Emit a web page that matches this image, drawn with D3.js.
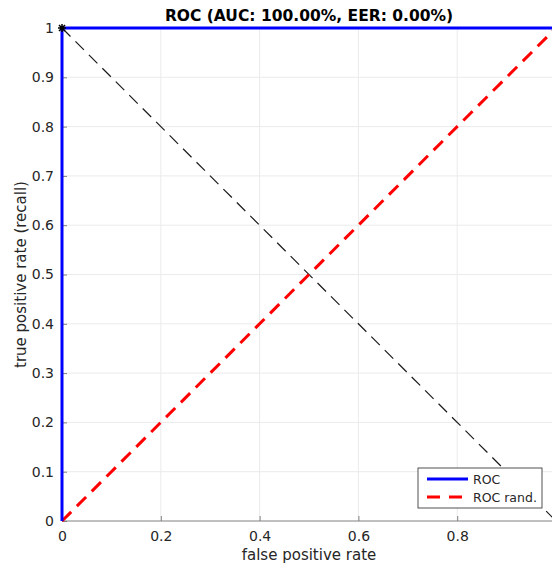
<!DOCTYPE html>
<html>
<head>
<meta charset="utf-8">
<script src="https://cdn.jsdelivr.net/npm/d3@7"></script>
<style>
  body { margin: 0; background: #fff; }
  text { font-family: "DejaVu Sans", sans-serif; }
</style>
</head>
<body>
<svg id="chart" width="552" height="570"></svg>
<script>
// ROC curve points (fpr, tpr)
var rocFpr = [0, 0, 1];
var rocTpr = [0, 1, 1];
// random classifier
var randFpr = [0, 1];
var randTpr = [0, 1];
// EER line
var eerFpr = [0, 1];
var eerTpr = [1, 0];
// operating point
var opFpr = [0];
var opTpr = [1];

var xTicks = [0, 0.2, 0.4, 0.6, 0.8];
var yTicks = [0, 0.1, 0.2, 0.3, 0.4, 0.5, 0.6, 0.7, 0.8, 0.9, 1];
var legendLabels = ["ROC", "ROC rand."];

var svg = d3.select("#chart");
var mLeft = 62, mRight = 556, mTop = 28, mBottom = 521;

var x = d3.scaleLinear().domain([0, 1]).range([mLeft, mRight]);
var y = d3.scaleLinear().domain([0, 1]).range([mBottom, mTop]);

// grid
svg.append("g").selectAll("line").data(xTicks.slice(1)).enter().append("line")
	.attr("x1", x).attr("x2", x).attr("y1", mTop).attr("y2", mBottom)
	.attr("stroke", "#ebebeb").attr("stroke-width", 1);
svg.append("g").selectAll("line").data(yTicks.slice(1)).enter().append("line")
	.attr("y1", y).attr("y2", y).attr("x1", mLeft).attr("x2", mRight)
	.attr("stroke", "#ebebeb").attr("stroke-width", 1);

// axes
var xAxis = svg.append("g").attr("transform", "translate(0," + mBottom + ")")
	.call(d3.axisBottom(x).tickValues(xTicks).tickSizeInner(-5).tickSizeOuter(0).tickPadding(10)
		.tickFormat(function(d){ return d3.format("")(d); }));
var yAxis = svg.append("g").attr("transform", "translate(" + mLeft + ",0)")
	.call(d3.axisLeft(y).tickValues(yTicks).tickSizeInner(-5).tickSizeOuter(0).tickPadding(8)
		.tickFormat(function(d){ return d3.format("")(d); }));
xAxis.select(".domain").attr("d", "M" + mLeft + ",0H" + mRight);
[xAxis, yAxis].forEach(function(a) {
	a.select(".domain").attr("stroke", "#808080");
	a.selectAll(".tick line").attr("stroke", "#808080");
	a.selectAll("text").attr("fill", "#262626").style("font-size", "14px")
		.style("font-family", "DejaVu Sans, sans-serif");
});

function pts(xs, ys) { return xs.map(function(v, i){ return [v, ys[i]]; }); }
var line = d3.line().x(function(d){ return x(d[0]); }).y(function(d){ return y(d[1]); });

svg.append("path").datum(pts(eerFpr, eerTpr)).attr("d", line)
	.attr("fill", "none").attr("stroke", "#1a1a1a").attr("stroke-width", 1.2)
	.attr("stroke-dasharray", "12,7");
svg.append("path").datum(pts(randFpr, randTpr)).attr("d", line)
	.attr("fill", "none").attr("stroke", "#ff0000").attr("stroke-width", 3)
	.attr("stroke-dasharray", "13,8");
svg.append("path").datum(pts(rocFpr, rocTpr)).attr("d", line)
	.attr("fill", "none").attr("stroke", "#0000ff").attr("stroke-width", 3);

svg.selectAll(".op").data(pts(opFpr, opTpr)).enter().append("path")
	.attr("transform", function(d){ return "translate(" + x(d[0]) + "," + y(d[1]) + ")"; })
	.attr("d", "M-4,0H4M0,-4V4M-3,-3L3,3M-3,3L3,-3")
	.attr("stroke", "#000").attr("stroke-width", 1.5).attr("fill", "none");

// title and labels
svg.append("text").attr("x", (mLeft + mRight) / 2).attr("y", 21).attr("text-anchor", "middle")
	.style("font-size", "15.5px").style("font-weight", "bold").attr("fill", "#000")
	.text("ROC (AUC: 100.00%, EER: 0.00%)");
svg.append("text").attr("x", (mLeft + mRight) / 2).attr("y", 560).attr("text-anchor", "middle")
	.style("font-size", "15px").attr("fill", "#262626").text("false positive rate");
svg.append("text").attr("transform", "translate(26," + ((mTop + mBottom) / 2) + ") rotate(-90)")
	.attr("text-anchor", "middle").style("font-size", "15px").attr("fill", "#262626")
	.text("true positive rate (recall)");

// legend
var lg = svg.append("g").attr("transform", "translate(418,468)");
lg.append("rect").attr("width", 124).attr("height", 40)
	.attr("fill", "#fff").attr("stroke", "#262626").attr("stroke-width", 0.8);
var legendStyles = [{c: "#0000ff", dash: null}, {c: "#ff0000", dash: "13,9"}];
legendLabels.forEach(function(lbl, i) {
	var yy = 11 + i * 18;
	lg.append("line").attr("x1", 9).attr("x2", 50).attr("y1", yy).attr("y2", yy)
		.attr("stroke", legendStyles[i].c).attr("stroke-width", 3)
		.attr("stroke-dasharray", legendStyles[i].dash);
	lg.append("text").attr("x", 55).attr("y", yy + 4.5).style("font-size", "12.5px")
		.attr("fill", "#262626").text(lbl);
});
</script>
</body>
</html>
